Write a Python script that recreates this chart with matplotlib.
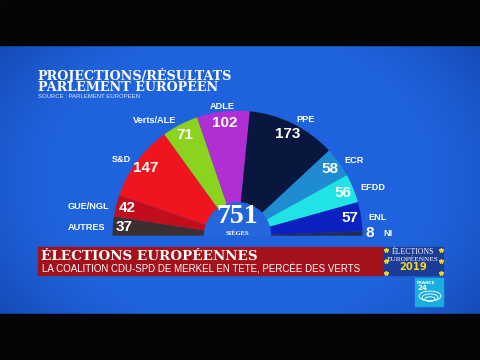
import numpy as np
import matplotlib
matplotlib.use("Agg")
import matplotlib.pyplot as plt
from matplotlib.patches import Rectangle, Wedge, Arc

# ---- data ----
parties = ["AUTRES", "GUE/NGL", "S&D", "Verts/ALE", "ADLE", "PPE", "ECR", "EFDD", "ENL", "NI"]
seats = [37, 42, 147, 71, 102, 173, 58, 56, 57, 8]
colors = ["#3b2f30", "#c20d1c", "#f0141f", "#8bd31f", "#b12fd2", "#09163d",
          "#1f8bd1", "#22e3e3", "#0b22c0", "#252b4a"]
total_label = "751"
total_sub = "SIÈGES"
title_lines = ["PROJECTIONS/RÉSULTATS", "PARLEMENT EUROPÉEN"]
source = "SOURCE : PARLEMENT EUROPEEN"
banner_title = "ÉLECTIONS EUROPÉENNES"
banner_sub = "LA COALITION CDU-SPD DE MERKEL EN TETE, PERCÉE DES VERTS"

W, H = 480, 360
fig = plt.figure(figsize=(4.8, 3.6), dpi=100)

# background axes in pixel coordinates
bg = fig.add_axes([0, 0, 1, 1])
bg.set_xlim(0, W)
bg.set_ylim(H, 0)
bg.axis("off")

# blue vignette background
yy, xx = np.mgrid[0:270, 0:480]
d = np.sqrt(((xx - 240) / 300.0) ** 2 + ((yy - 135) / 230.0) ** 2)
d = np.clip(d, 0, 1.2)
c0 = np.array([0x1f, 0x63, 0xdd]) / 255.0
c1 = np.array([0x0e, 0x3a, 0x9c]) / 255.0
t = np.clip((d - 0.6) / 0.55, 0, 1) ** 1.5
img = c0[None, None, :] * (1 - t[..., None]) + c1[None, None, :] * t[..., None]
bg.imshow(img, extent=[0, 480, 314, 45], aspect="auto", zorder=0)
bg.add_patch(Rectangle((0, 0), 480, 45, color="#050508", zorder=1))
bg.add_patch(Rectangle((0, 314), 480, 46, color="#050508", zorder=1))

# title (one text object, two tight lines)
bg.text(37.5, 91, "\n".join(title_lines), color="white", fontsize=9.2,
        fontweight="heavy", family="DejaVu Serif", va="baseline", ha="left",
        linespacing=0.78, zorder=3)
bg.text(37.5, 97, source, color="#dfe6f5", fontsize=4.3, family="Liberation Sans",
        va="center", ha="left", zorder=3)

# banner
bg.add_patch(Rectangle((37.7, 247.3), 345.3, 27.7, color="#a3111b", zorder=3))
bg.text(41, 257, banner_title, color="white", fontsize=9.7, fontweight="heavy",
        family="DejaVu Serif", va="center", ha="left", zorder=4)
bg.text(41.5, 268.5, banner_sub, color="white", fontsize=7.0, fontweight="normal",
        family="Liberation Sans", va="center", ha="left", zorder=4)

# EU logo box
bg.add_patch(Rectangle((383, 247.3), 60, 27.7, color="#1b3d97", zorder=3))
for sx, sy in [(385.5, 249.5), (440.5, 249.5), (385.5, 261), (440.5, 261),
               (385.5, 272.5), (440.5, 272.5)]:
    bg.plot(sx, sy, marker="*", color="#f2d21c", markersize=3.2, zorder=4)
bg.text(413, 252.3, "ÉLECTIONS", color="white", fontsize=5.6, family="Liberation Serif",
        ha="center", va="center", zorder=4)
bg.text(413, 259, "EUROPÉENNES", color="white", fontsize=5.2, family="Liberation Serif",
        ha="center", va="center", zorder=4)
bg.text(413, 267.5, "2019", color="#f5d51e", fontsize=7.2, fontweight="bold",
        family="DejaVu Sans", ha="center", va="center", zorder=4)

# France 24 logo
bg.add_patch(Rectangle((415, 278), 28, 28, color="#1aaede", zorder=3))
bg.text(417, 282.5, "FRANCE", color="white", fontsize=3.0, fontweight="bold",
        family="DejaVu Sans", ha="left", va="center", zorder=4)
bg.text(417, 288.5, "24", color="white", fontsize=5.2, fontweight="bold",
        family="DejaVu Sans", ha="left", va="center", zorder=4)
for i, w in enumerate([22, 16, 10]):
    bg.add_patch(Arc((430, 296 + i * 1.5), w, w * 0.45, theta1=0, theta2=360,
                     color="white", lw=0.6, zorder=4))

# hemicycle via pie
R_px = 125.0
cx, cy = 237.5, 235.7
S = 3 * R_px
ax = fig.add_axes([(cx - S / 2) / W, (H - cy - S / 2) / H, S / W, S / H])
ax.set_zorder(2)
ax.patch.set_alpha(0)
total = sum(seats)
vals = seats + [total]
cols = colors + ["none"]
wedges, _ = ax.pie(vals, colors=cols, startangle=180, counterclock=False,
                   radius=1.0, wedgeprops=dict(linewidth=0))
wedges[-1].set_visible(False)
ax.set_xlim(-1.5, 1.5)
ax.set_ylim(-1.5, 1.5)
ax.axis("off")

# center circle
ax.add_patch(Wedge((0, 0), 33 / R_px, 0, 180, color="#2467dd", zorder=5))
ax.text(0, 0.15, total_label, color="white", fontsize=20, fontweight="bold",
        family="Liberation Serif", ha="center", va="center", zorder=6)
ax.text(0, 0.022, total_sub, color="white", fontsize=4.8, fontweight="bold",
        family="Liberation Serif", ha="center", va="center", zorder=6)

dy = -0.018
for w, name, v in zip(wedges[:-1], parties, seats):
    mid = np.deg2rad((w.theta1 + w.theta2) / 2)
    if v < 20:
        ax.text(1.06 * np.cos(mid), 1.06 * np.sin(mid), str(v), color="white",
                fontsize=11, fontweight="bold", family="Liberation Sans",
                ha="center", va="center", zorder=6)
        ax.text(1.205 * np.cos(mid), 1.205 * np.sin(mid), name, color="white",
                fontsize=6.6, fontweight="bold", family="Liberation Sans",
                ha="center", va="center", zorder=6)
        continue
    ax.text(0.91 * np.cos(mid), 0.91 * np.sin(mid), str(v), color="white",
            fontsize=11, fontweight="bold", family="Liberation Sans",
            ha="center", va="center", zorder=6)
    deg = np.rad2deg(mid)
    if 80 < deg < 100:
        ha = "center"
    elif deg >= 100:
        ha = "right"
    else:
        ha = "left"
    rl = 1.06
    ax.text(rl * np.cos(mid), rl * np.sin(mid) + dy, name, color="white",
            fontsize=6.6, fontweight="bold", family="Liberation Sans",
            ha=ha, va="center", zorder=6)

fig.savefig("out.png", dpi=100)
